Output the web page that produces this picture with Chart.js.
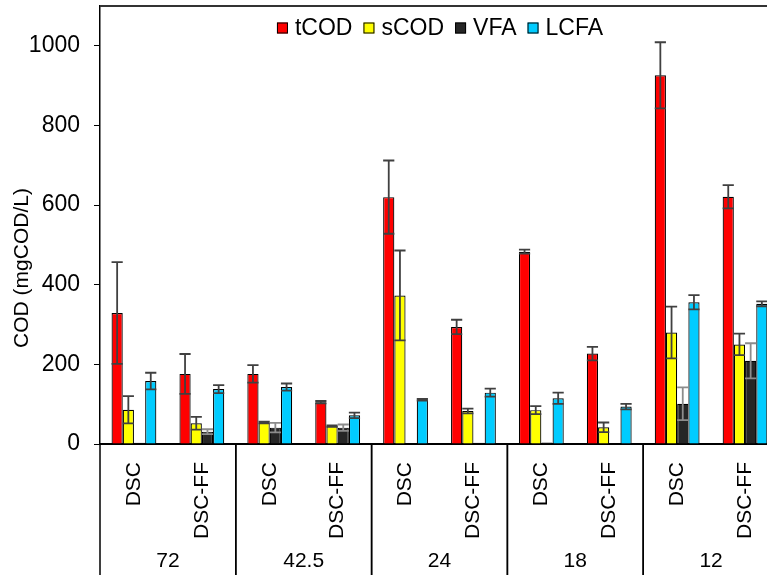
<!DOCTYPE html>
<html>
<head>
<meta charset="utf-8">
<script src="https://cdn.jsdelivr.net/npm/chart.js@4.4.0/dist/chart.umd.min.js"></script>
<style>
  html, body { margin: 0; padding: 0; background: #fff; overflow: hidden; }
  #wrap { width: 767px; height: 575px; overflow: hidden; }
</style>
</head>
<body>
<div id="wrap"><canvas id="codChart" width="780" height="575"></canvas></div>
<script>
// data
const categories = ['DSC', 'DSC-FF', 'DSC', 'DSC-FF', 'DSC', 'DSC-FF', 'DSC', 'DSC-FF', 'DSC', 'DSC-FF'];
const groups = ['72', '42.5', '24', '18', '12'];
const yTicks = [0, 200, 400, 600, 800, 1000];

const tCOD = [329, 176, 176, 105, 620, 294, 483, 227, 926, 621];
const tCODErr = [128, 50, 22, 3, 92, 18, 5, 17, 83, 29];
const sCOD = [86, 52, 54, 45, 373, 83, 85, 42, 280, 250];
const sCODErr = [34, 16, 2, 2, 113, 6, 10, 12, 65, 27];
const VFA = [3, 31, 41, 41, 0, 3, 4, 0, 101, 209];
const VFAErr = [0, 6, 12, 8, 0, 0, 0, 0, 41, 44];
const LCFA = [158, 138, 143, 72, 111, 129, 115, 94, 356, 352];
const LCFAErr = [21, 10, 9, 7, 2, 10, 14, 7, 18, 6];

const FONT = '"Liberation Sans", Arial, sans-serif';

function mkSet(label, data, err, color, errColor) {
    return {
        label: label,
        data: data,
        err: err,
        errColor: errColor,
        backgroundColor: color,
        borderColor: '#000',
        borderWidth: 1.2,
        categoryPercentage: 0.66,
        barPercentage: 1.0
    };
}

// error bars, legend, group labels, dividers, y title
const extras = {
    id: 'extras',
    afterDatasetsDraw(chart) {
        const ctx = chart.ctx;
        const y = chart.scales.y;
        chart.data.datasets.forEach((ds, i) => {
            const meta = chart.getDatasetMeta(i);
            meta.data.forEach((bar, j) => {
                const e = ds.err[j];
                if (!e) return;
                const v = ds.data[j];
                const yt = y.getPixelForValue(v + e);
                const yb = y.getPixelForValue(Math.max(v - e, 0));
                const hw = bar.width / 2;
                ctx.save();
                ctx.strokeStyle = ds.errColor;
                ctx.lineWidth = 1.8;
                ctx.beginPath();
                ctx.moveTo(bar.x, yt); ctx.lineTo(bar.x, yb);
                ctx.moveTo(bar.x - hw, yt); ctx.lineTo(bar.x + hw, yt);
                ctx.moveTo(bar.x - hw, yb); ctx.lineTo(bar.x + hw, yb);
                ctx.stroke();
                ctx.restore();
            });
        });
    },
    afterDraw(chart) {
        const ctx = chart.ctx;
        const area = chart.chartArea;
        const x = chart.scales.x;
        ctx.save();

        // top frame line
        ctx.strokeStyle = '#333';
        ctx.lineWidth = 2;
        ctx.beginPath();
        ctx.moveTo(area.left, area.top);
        ctx.lineTo(area.right, area.top);
        ctx.stroke();

        // group dividers and labels
        ctx.strokeStyle = '#000';
        ctx.lineWidth = 1.5;
        ctx.fillStyle = '#000';
        ctx.font = '21px ' + FONT;
        ctx.textAlign = 'center';
        ctx.textBaseline = 'middle';
        groups.forEach((g, k) => {
            const a = x.getPixelForValue(2 * k);
            const b = x.getPixelForValue(2 * k + 1);
            const step = b - a;
            const left = a - step / 2;
            const right = b + step / 2;
            ctx.beginPath();
            ctx.moveTo(left, area.bottom);
            ctx.lineTo(left, chart.height);
            ctx.moveTo(right, area.bottom);
            ctx.lineTo(right, chart.height);
            ctx.stroke();
            ctx.fillText(g, (left + right) / 2, 561);
        });

        // y axis title
        ctx.save();
        ctx.translate(22, 268);
        ctx.rotate(-Math.PI / 2);
        ctx.fillText('COD (mgCOD/L)', 0, 0);
        ctx.restore();

        // legend inside the plot
        const items = chart.data.datasets.map(d => ({ label: d.label, color: d.backgroundColor }));
        const box = 11, gapText = 7, gapItem = 11;
        ctx.font = '23px ' + FONT;
        let total = 0;
        items.forEach((it, k) => {
            it.w = ctx.measureText(it.label).width;
            total += box + gapText + it.w + (k < items.length - 1 ? gapItem : 0);
        });
        let cx = 440 - total / 2;
        const ly = 28;
        ctx.textAlign = 'left';
        items.forEach(it => {
            ctx.fillStyle = it.color;
            ctx.fillRect(cx, ly - box / 2, box, box);
            ctx.strokeStyle = '#000';
            ctx.lineWidth = 1;
            ctx.strokeRect(cx + 0.5, ly - box / 2 + 0.5, box - 1, box - 1);
            ctx.fillStyle = '#000';
            ctx.fillText(it.label, cx + box + gapText, ly + 1);
            cx += box + gapText + it.w + gapItem;
        });

        ctx.restore();
    }
};

new Chart(document.getElementById('codChart'), {
    type: 'bar',
    data: {
        labels: categories,
        datasets: [
            mkSet('tCOD', tCOD, tCODErr, '#ff0000', '#404040'),
            mkSet('sCOD', sCOD, sCODErr, '#ffff00', '#404040'),
            mkSet('VFA', VFA, VFAErr, '#262626', '#8c8c8c'),
            mkSet('LCFA', LCFA, LCFAErr, '#00ccff', '#404040')
        ]
    },
    options: {
        responsive: false,
        animation: false,
        layout: { padding: { top: 6, right: 1, left: 0, bottom: 0 } },
        plugins: {
            legend: { display: false },
            tooltip: { enabled: false }
        },
        scales: {
            x: {
                afterFit(scale) {
                    scale.height = 131;
                    scale.paddingLeft = 0;
                    scale.paddingRight = 0;
                },
                grid: { display: false },
                border: { color: '#000', width: 2 },
                ticks: {
                    minRotation: 90,
                    maxRotation: 90,
                    padding: 10,
                    color: '#000',
                    font: { family: FONT, size: 21 }
                }
            },
            y: {
                min: 0,
                max: 1100,
                afterFit(scale) {
                    scale.width = 100;
                    scale.paddingTop = 0;
                    scale.paddingBottom = 0;
                },
                afterBuildTicks(scale) {
                    scale.ticks = yTicks.map(v => ({ value: v }));
                },
                grid: {
                    drawOnChartArea: false,
                    drawTicks: true,
                    tickLength: 6,
                    color: '#000'
                },
                border: { color: '#000', width: 1.5 },
                ticks: {
                    padding: 14,
                    color: '#000',
                    font: { family: FONT, size: 23 },
                    callback: v => String(v)
                }
            }
        }
    },
    plugins: [extras]
});
</script>
</body>
</html>
